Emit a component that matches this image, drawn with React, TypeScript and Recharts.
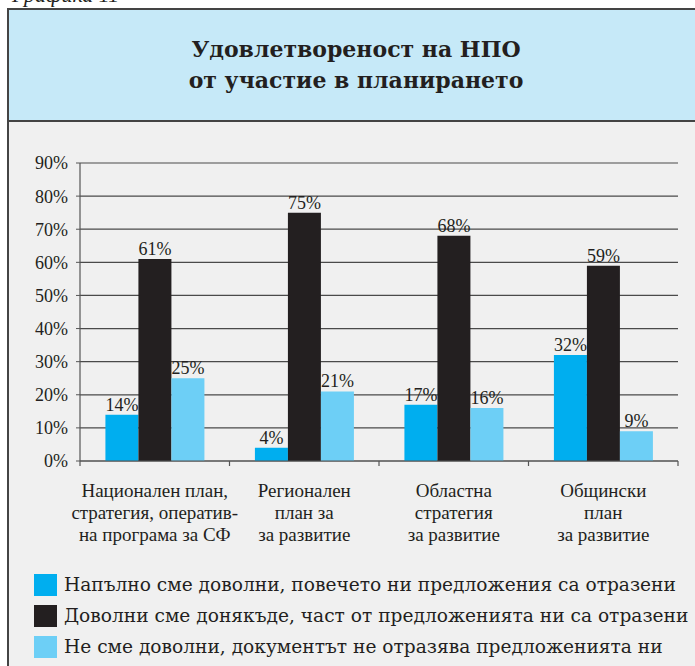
import React from 'react';
import { BarChart, Bar, XAxis, YAxis, CartesianGrid, LabelList, Legend } from 'recharts';

const categoryLines: string[][] = [
  ['Национален план,', 'стратегия, оператив-', 'на програма за СФ'],
  ['Регионален', 'план за', 'за развитие'],
  ['Областна', 'стратегия', 'за развитие'],
  ['Общински', 'план', 'за развитие'],
];
const fullySatisfied = [14, 4, 17, 32];
const partlySatisfied = [61, 75, 68, 59];
const notSatisfied = [25, 21, 16, 9];
const seriesNames = [
  'Напълно сме доволни, повечето ни предложения са отразени',
  'Доволни сме донякъде, част от предложенията ни са отразени',
  'Не сме доволни, документът не отразява предложенията ни',
];
const seriesColors = ['#00aeef', '#231f20', '#6dcff6'];
const yTicks = [0, 10, 20, 30, 40, 50, 60, 70, 80, 90];
const titleLines = ['Удовлетвореност на НПО', 'от участие в планирането'];
const captionText = 'Графика 11';

const data = categoryLines.map((lines, i) => ({
  name: lines.join(' '),
  a: fullySatisfied[i],
  b: partlySatisfied[i],
  c: notSatisfied[i],
}));

const FONT = '"Liberation Serif", serif';
const TEXT = '#231f20';

function CategoryTick(props: any) {
  const { x, y, payload, index, visibleTicksCount, width } = props;
  const half =
    payload && typeof payload.offset === 'number' && payload.offset > 0
      ? payload.offset
      : width / visibleTicksCount / 2;
  const lines = categoryLines[index] || [];
  const isLast = index === visibleTicksCount - 1;
  return (
    <g>
      <line x1={x - half} x2={x - half} y1={y} y2={y + 5} stroke="#555" strokeWidth={1.2} />
      {isLast && <line x1={x + half} x2={x + half} y1={y} y2={y + 5} stroke="#555" strokeWidth={1.2} />}
      {lines.map((l, i) => (
        <text
          key={i}
          x={x}
          y={y + 36 + i * 22}
          textAnchor="middle"
          fontFamily={FONT}
          fontSize={19}
          fill={TEXT}
        >
          {l}
        </text>
      ))}
    </g>
  );
}

function renderLegend(props: any) {
  const payload = [...(props.payload || [])].sort(
    (p: any, q: any) => seriesNames.indexOf(p.value) - seriesNames.indexOf(q.value)
  );
  return (
    <div style={{ display: 'flex', flexDirection: 'column' }}>
      {payload.map((item: any, i: number) => (
        <div key={i} style={{ display: 'flex', alignItems: 'center', height: 31 }}>
          <span style={{ display: 'inline-block', width: 23, height: 22, background: item.color, marginRight: 7 }} />
          <span style={{ fontFamily: '"DejaVu Serif", serif', fontSize: 18.6, color: TEXT, whiteSpace: 'nowrap' }}>
            {item.value}
          </span>
        </div>
      ))}
    </div>
  );
}

export default function App() {
  return (
    <div
      style={{
        position: 'absolute',
        left: 0,
        top: 0,
        width: 695,
        height: 666,
        overflow: 'hidden',
        background: '#ffffff',
      }}
    >
      <div
        style={{
          position: 'absolute',
          left: 12,
          top: -16,
          fontFamily: FONT,
          fontStyle: 'italic',
          fontSize: 22,
          lineHeight: '22px',
          color: TEXT,
          whiteSpace: 'nowrap',
        }}
      >
        {captionText}
      </div>
      <div
        style={{
          position: 'absolute',
          left: 7,
          top: 8,
          width: 720,
          height: 700,
          borderLeft: '2px solid #444',
          borderTop: '2px solid #444',
          background: '#f0f0f0',
        }}
      />
      <div
        style={{
          position: 'absolute',
          left: 9,
          top: 10,
          width: 694,
          height: 110,
          background: '#c6e9f8',
          borderBottom: '2px solid #444',
          display: 'flex',
          flexDirection: 'column',
          justifyContent: 'center',
          alignItems: 'center',
        }}
      >
        {titleLines.map((t, i) => (
          <div
            key={i}
            style={{
              fontFamily: '"DejaVu Serif", serif',
              fontSize: 22,
              fontWeight: 'bold',
              lineHeight: '31px',
              color: TEXT,
            }}
          >
            {t}
          </div>
        ))}
      </div>
      <div style={{ position: 'absolute', left: 0, top: 0 }}>
        <BarChart
          width={695}
          height={666}
          data={data}
          margin={{ top: 163, right: 17, bottom: 115, left: 0 }}
          barCategoryGap="17%"
          barGap={0}
        >
          <CartesianGrid vertical={false} stroke="#4a4a4a" strokeWidth={1.2} />
          <XAxis
            dataKey="name"
            height={90}
            tickLine={false}
            tickSize={0}
            tickMargin={0}
            interval={0}
            axisLine={{ stroke: '#555', strokeWidth: 1.2 }}
            tick={<CategoryTick />}
          />
          <YAxis
            width={80}
            domain={[0, 90]}
            ticks={yTicks}
            interval={0}
            tickSize={4}
            tickMargin={8}
            tickFormatter={(v: number) => `${v}%`}
            axisLine={{ stroke: '#555', strokeWidth: 1.2 }}
            tickLine={{ stroke: '#555' }}
            tick={{ fontFamily: FONT, fontSize: 18, fill: TEXT }}
          />
          <YAxis
            yAxisId="r"
            orientation="right"
            width={0}
            domain={[0, 90]}
            tick={false}
            tickLine={false}
            axisLine={{ stroke: '#888', strokeWidth: 1.5 }}
          />
          <Legend
            layout="horizontal"
            verticalAlign="middle"
            align="center"
            wrapperStyle={{ left: 34, top: 569, width: 660 }}
            content={renderLegend}
          />
          {(['a', 'b', 'c'] as const).map((k, i) => (
            <Bar key={k} dataKey={k} name={seriesNames[i]} fill={seriesColors[i]} isAnimationActive={false}>
              <LabelList
                dataKey={k}
                position="top"
                offset={4}
                formatter={(v: any) => `${v}%`}
                style={{ fontFamily: FONT, fontSize: 18, fill: TEXT }}
              />
            </Bar>
          ))}
        </BarChart>
      </div>
    </div>
  );
}
